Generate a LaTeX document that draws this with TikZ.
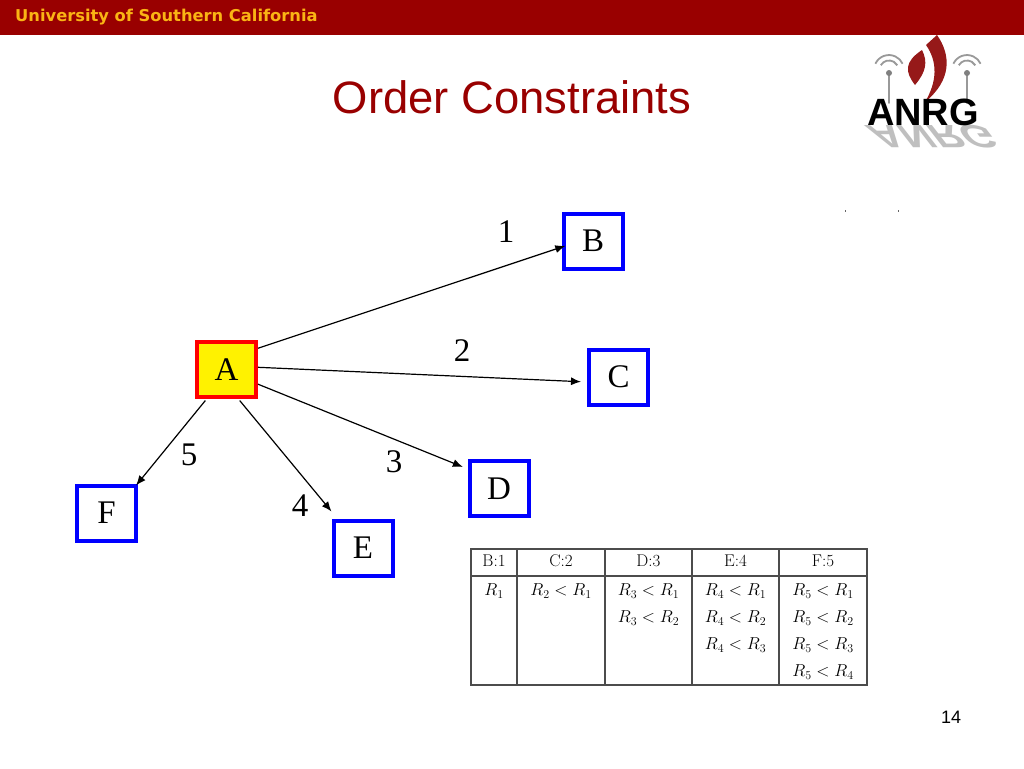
\documentclass[tikz,border=0pt]{standalone}
\usepackage{fontspec}
\usepackage{amsmath}
\newfontfamily\timesfont{Liberation Serif}
\newfontfamily\arialfont{Liberation Sans}
\newfontfamily\bannerfont{DejaVu Sans}
\usetikzlibrary{arrows.meta}
\definecolor{uscred}{RGB}{153,0,0}
\definecolor{uscgold}{RGB}{250,180,20}
\definecolor{logored}{RGB}{150,25,25}
\tikzset{
    destbox/.style={draw=blue, line width=4pt, minimum width=59pt, minimum height=55pt, inner sep=0pt, font=\timesfont\fontsize{33}{33}\selectfont},
    srcbox/.style={destbox, draw=red, fill=yellow},
    numlabel/.style={font=\timesfont\fontsize{33}{33}\selectfont},
    link/.style={black, line width=1.2pt, -{Latex[length=10pt,width=8pt]}},
    cellhead/.style={font=\fontsize{17}{17}\selectfont, text=black},
    cellmath/.style={font=\fontsize{17.5}{17.5}\selectfont, text=black},
    rule/.style={black!70, line width=1.3pt},
    mast/.style={black!40, line width=1.6pt, line cap=round},
    waves/.style={black!40, line width=1.8pt}
}
\begin{document}
\begin{tikzpicture}[x=1pt,y=-1pt]
        \useasboundingbox (0,0) rectangle (1024,768);
        \fill[white] (0,0) rectangle (1024,768);
        \fill[uscred] (0,0) rectangle (1024,35);
        \node[text=uscgold, anchor=west, inner sep=0pt, font=\bannerfont\bfseries\fontsize{16.3}{16.3}\selectfont] (banner) at (15,17) {University of Southern California};
        \node[text=uscred, font=\arialfont\fontsize{45.4}{45.4}\selectfont] (title) at (512,97) {Order Constraints};
        \node[font=\arialfont\fontsize{18}{18}\selectfont] (pagenum) at (951,717) {14};

        \fill[logored] (937,35) .. controls (951,55) and (952,80) .. (925,102) .. controls (937,82) and (938,62) .. (926,45) -- cycle;
        \fill[logored] (922,50) .. controls (904,62) and (905,72) .. (915,85) .. controls (926,72) and (928,62) .. (922,50) -- cycle;
        \draw[mast] (889,72) -- (889,103);
        \draw[mast] (967,72) -- (967,103);
        \draw[waves] (875.4,63.7) arc (155:25:15pt);
        \draw[waves] (880.8,65.25) arc (150:30:9.5pt);
        \draw[waves] (953.4,63.7) arc (155:25:15pt);
        \draw[waves] (958.8,65.25) arc (150:30:9.5pt);
        \fill[black!50] (889,73) circle (3pt);
        \fill[black!50] (967,73) circle (3pt);
        \node[text=black!25, inner sep=0pt, transform shape, xscale=1.1, yscale=-0.85, xslant=0.6, font=\arialfont\bfseries\fontsize{38}{38}\selectfont] (logoshade) at (933,137) {ANRG};
        \node[inner sep=0pt, font=\arialfont\bfseries\fontsize{38}{38}\selectfont] (logotext) at (923,112) {ANRG};
        \fill[black!60] (844.5,210) rectangle (845.5,212);
        \fill[black!60] (897.5,210) rectangle (898.5,212);

        \node[srcbox] (A) at (226.5,369.5) {A};
        \node[destbox] (B) at (593,241) {B};
        \node[destbox] (C) at (618.5,377) {C};
        \node[destbox] (D) at (499,488.5) {D};
        \node[destbox] (E) at (363,548) {E};
        \node[destbox] (F) at (106.5,513) {F};

        \draw[link, shorten >=-4pt] (A.34) -- (B.191);
        \draw[link, shorten >=6pt] (A.4) -- (C.189);
        \draw[link, shorten >=5pt] (A.-25) -- (D.148);
        \draw[link, shorten <=2pt] (A.-68) -- ([yshift=7pt]E.north west);
        \draw[link, shorten <=2pt] (A.-124) -- ([xshift=-2pt,yshift=-2pt]F.north east);

        \node[numlabel] (n1) at (506,232) {1};
        \node[numlabel] (n2) at (462,351) {2};
        \node[numlabel] (n3) at (394,462) {3};
        \node[numlabel] (n4) at (300,506) {4};
        \node[numlabel] (n5) at (189,455) {5};

        \draw[rule] (471,549) rectangle (867,685);
        \draw[rule] (471,576) -- (867,576);
        \draw[rule] (517,549) -- (517,685);
        \draw[rule] (605,549) -- (605,685);
        \draw[rule] (692,549) -- (692,685);
        \draw[rule] (779,549) -- (779,685);

        \node[cellhead] (hb) at (494,561) {B:1};
        \node[cellhead] (hc) at (561,561) {C:2};
        \node[cellhead] (hd) at (648.5,561) {D:3};
        \node[cellhead] (he) at (735.5,561) {E:4};
        \node[cellhead] (hf) at (823,561) {F:5};
        \node[cellmath] (rb) at (494,591) {$R_1$};
        \node[cellmath] (rc) at (561,591) {$R_2 < R_1$};
        \node[cellmath] (rd1) at (648.5,591) {$R_3 < R_1$};
        \node[cellmath] (rd2) at (648.5,618) {$R_3 < R_2$};
        \node[cellmath] (re1) at (735.5,591) {$R_4 < R_1$};
        \node[cellmath] (re2) at (735.5,618) {$R_4 < R_2$};
        \node[cellmath] (re3) at (735.5,645) {$R_4 < R_3$};
        \node[cellmath] (rf1) at (823,591) {$R_5 < R_1$};
        \node[cellmath] (rf2) at (823,618) {$R_5 < R_2$};
        \node[cellmath] (rf3) at (823,645) {$R_5 < R_3$};
        \node[cellmath] (rf4) at (823,672) {$R_5 < R_4$};
    \end{tikzpicture}
\end{document}
